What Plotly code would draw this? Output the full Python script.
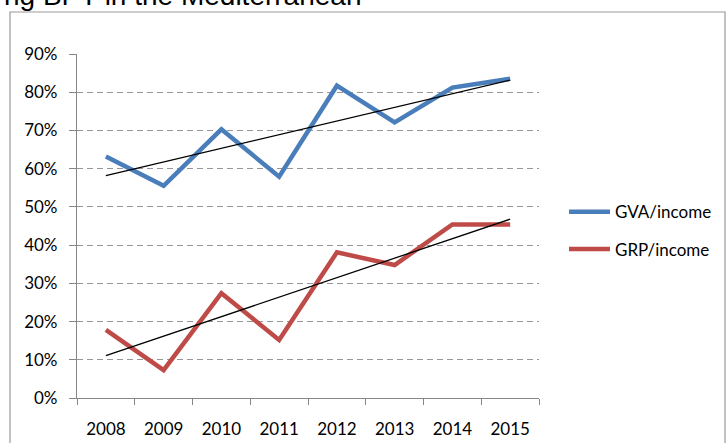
import numpy as np
import plotly.graph_objects as go

years = ["2008", "2009", "2010", "2011", "2012", "2013", "2014", "2015"]
gva_income = [0.632, 0.555, 0.703, 0.579, 0.817, 0.721, 0.812, 0.835]
grp_income = [0.178, 0.073, 0.274, 0.152, 0.381, 0.348, 0.454, 0.454]
series_names = ["GVA/income", "GRP/income"]
series_colors = ["#4A7EBB", "#BE4B48"]
title_text = "ng BPT in the Mediterranean"

W, H = 726, 443
L, R, T, B = 77, 187, 54, 45
pw, ph = W - L - R, H - T - B


def px_x(p):
    return (p - L) / pw


def px_y(p):
    return (H - B - p) / ph


fig = go.Figure()
xs = np.arange(len(years))
for name, vals, col in zip(series_names, [gva_income, grp_income], series_colors):
    fig.add_trace(go.Scatter(x=years, y=vals, mode="lines", name=name,
                             line=dict(color=col, width=4.5), showlegend=False))
for vals in [gva_income, grp_income]:
    k, b0 = np.polyfit(xs, vals, 1)
    fig.add_trace(go.Scatter(x=years, y=list(k * xs + b0), mode="lines",
                             line=dict(color="black", width=1.3), showlegend=False,
                             hoverinfo="skip"))

shapes = [dict(type="rect", xref="paper", yref="paper",
               x0=px_x(10), x1=px_x(725), y0=px_y(452), y1=px_y(12),
               line=dict(color="#9a9a9a", width=1.2), layer="below")]
annotations = [dict(text=title_text, xref="paper", yref="paper", x=px_x(363), y=1,
                    xanchor="right", yanchor="bottom", yshift=41, showarrow=False,
                    font=dict(family="Liberation Sans", size=28, color="black"))]
leg_y = [211.7, 249]
for name, col, ly in zip(series_names, series_colors, leg_y):
    shapes.append(dict(type="line", xref="paper", yref="paper",
                       x0=px_x(569), x1=px_x(610), y0=px_y(ly), y1=px_y(ly),
                       line=dict(color=col, width=4.5)))
    annotations.append(dict(text=name, xref="paper", yref="paper", x=px_x(613),
                            y=px_y(ly), xanchor="left", yanchor="middle", showarrow=False,
                            font=dict(family="Lato", size=17, color="black")))

fig.update_layout(
    width=W, height=H, margin=dict(l=L, r=R, t=T, b=B),
    paper_bgcolor="white", plot_bgcolor="white",
    shapes=shapes, annotations=annotations,
    font=dict(family="Lato", size=17, color="black"),
    xaxis=dict(type="category", tickson="boundaries", ticks="outside", ticklen=6,
               tickcolor="#868686", showline=True, linecolor="#868686", linewidth=1.2,
               showgrid=False, tickfont=dict(size=17), ticklabelstandoff=15,
               automargin=False, range=[-0.5, len(years) - 0.5]),
    yaxis=dict(range=[0, 0.9], dtick=0.1, tickformat=".0%", ticks="outside", ticklen=7,
               tickcolor="#868686", showline=True, linecolor="#868686", linewidth=1.2,
               showgrid=True, gridcolor="#969696", gridwidth=1, griddash="6px,4px",
               zeroline=False, tickfont=dict(size=17), ticklabelstandoff=8,
               automargin=False),
)

fig.write_html("out.html", config={"displayModeBar": False},
               post_script="document.body.style.margin='0';document.body.style.padding='0';")
